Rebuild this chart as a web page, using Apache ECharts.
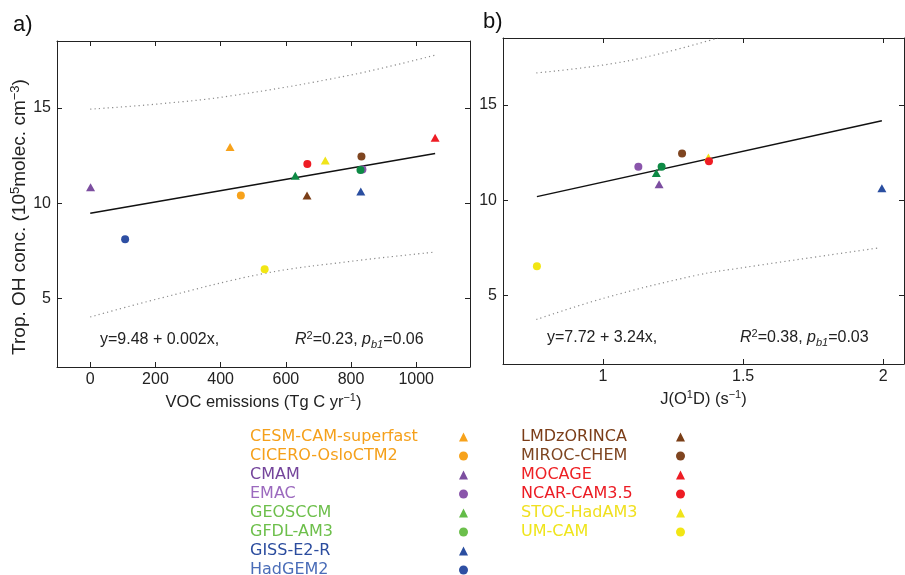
<!DOCTYPE html>
<html>
<head>
<meta charset="utf-8">
<script src="https://cdn.jsdelivr.net/npm/echarts@6/dist/echarts.min.js"></script>
<style>html,body{margin:0;padding:0;background:#fff;}#c{width:905px;height:575px;}</style>
</head>
<body>
<div id="c"></div>
<script>
// ---- data ----
const models = ['CESM-CAM-superfast','CICERO-OsloCTM2','CMAM','EMAC','GEOSCCM','GFDL-AM3','GISS-E2-R','HadGEM2',
                'LMDzORINCA','MIROC-CHEM','MOCAGE','NCAR-CAM3.5','STOC-HadAM3','UM-CAM'];
const symbols = ['triangle','circle','triangle','circle','triangle','circle','triangle','circle',
                 'triangle','circle','triangle','circle','triangle','circle'];
// panel a: VOC emissions (Tg C/yr) vs trop. OH (1e5 molec/cm3)
const vocEmissions = [429, 462, 1, 835, 629, 829, 830, 107, 665, 832, 1058, 666, 721, 535];
const ohA          = [12.94, 10.41, 10.84, 11.77, 11.44, 11.74, 10.62, 8.11, 10.41, 12.45, 13.43, 12.06, 12.24, 6.54];
// panel b: J(O1D) vs trop. OH (only 9 models)
const jo1d = [null, null, 1.20, 1.126, 1.19, 1.209, 1.995, null, null, 1.282, null, 1.378, 1.376, 0.764];
const ohB  = [null, null, 10.84, 11.75, 11.43, 11.75, 10.63, null, null, 12.45, null, 12.04, 12.24, 6.54];
// regression lines and prediction bounds
const regA   = [[0, 9.48], [1058, 12.6]];
const upperA = [[0, 14.93], [214, 15.21], [429, 15.62], [797, 16.71], [1058, 17.76]];
const lowerA = [[0, 4.04], [214, 5.02], [531, 6.31], [797, 6.95], [1058, 7.44]];
const regB   = [[0.764, 10.19], [1.995, 14.17]];
const upperB = [[0.762, 16.67], [1.089, 17.3], [1.41, 18.5]];
const lowerB = [[0.762, 3.75], [1.006, 4.88], [1.327, 6.05], [1.5, 6.47], [1.988, 7.51]];
// ticks
const xTicksA = [0, 200, 400, 600, 800, 1000];
const xTicksB = [1, 1.5, 2];
const yTicks  = [5, 10, 15];
const eqA = ['y=9.48 + 0.002x,', '0.23', '0.06'];
const eqB = ['y=7.72 + 3.24x,', '0.38', '0.03'];

// ---- styles ----
const markerColors = ['#F7A21B','#F7A21B','#7C4EA0','#8A55AB','#0E8A45','#0E8A45','#2A4EA0','#2E4FA3',
                      '#7A3E17','#7F4520','#EE1C24','#EE1C24','#F0E41A','#F2E614'];
const legendMarkerColors = ['#F7A21B','#F7A21B','#7C4EA0','#8A55AB','#63BC48','#6BBF4B','#2A4EA0','#2E4FA3',
                      '#7A3E17','#7F4520','#EE1C24','#EE1C24','#F0E41A','#F2E614'];
const textColors = ['#F5A01A','#F5A01A','#74449B','#9B69BE','#6DBF4B','#6DBF4B','#2B4C9E','#4A6DB8',
                    '#7B3C17','#7E4520','#EE2024','#EC1C24','#F0E020','#EFE51B'];

const FONT = 'Liberation Sans, Arial, Helvetica, sans-serif';
const AX = '#222';

function nameRich(size, sup, lh) {
  return {
    n: {fontSize: size, fontFamily: FONT, color: AX, lineHeight: lh},
    s: {fontSize: sup, fontFamily: FONT, color: AX, lineHeight: sup, verticalAlign: 'top'}
  };
}

function xAxes(grid, min, max, ticks, name) {
  return [{
    gridIndex: grid, type: 'value', min: min, max: max, position: 'bottom',
    axisLine: {show: true, onZero: false, lineStyle: {color: AX, width: 1}},
    axisTick: {show: true, inside: true, length: 5, customValues: ticks, lineStyle: {color: AX}},
    axisLabel: {show: true, customValues: ticks, fontSize: 16, fontFamily: FONT, color: AX, margin: 5,
                formatter: function (v) { return String(v); }},
    splitLine: {show: false},
    name: name, nameLocation: 'middle', nameGap: 24,
    nameTextStyle: {rich: nameRich(16.5, 11, 20)}
  }, {
    gridIndex: grid, type: 'value', min: min, max: max, position: 'top',
    axisLine: {show: true, onZero: false, lineStyle: {color: AX, width: 1}},
    axisTick: {show: true, inside: true, length: 5, customValues: ticks, lineStyle: {color: AX}},
    axisLabel: {show: false}, splitLine: {show: false}
  }];
}
function yAxes(grid, name) {
  const left = {
    gridIndex: grid, type: 'value', min: 1.42, max: 18.5, position: 'left',
    axisLine: {show: true, onZero: false, lineStyle: {color: AX, width: 1}},
    axisTick: {show: true, inside: true, length: 5, customValues: yTicks, lineStyle: {color: AX}},
    axisLabel: {show: true, customValues: yTicks, fontSize: 16, fontFamily: FONT, color: AX, margin: 6,
                formatter: function (v) { return String(v); }},
    splitLine: {show: false}
  };
  if (name) {
    left.name = name; left.nameLocation = 'middle'; left.nameGap = 24; left.nameRotate = 90;
    left.nameTextStyle = {rich: nameRich(19, 13, 22), padding: [0, 26, 0, 0]};
  }
  return [left, {
    gridIndex: grid, type: 'value', min: 1.42, max: 18.5, position: 'right',
    axisLine: {show: true, onZero: false, lineStyle: {color: AX, width: 1}},
    axisTick: {show: true, inside: true, length: 5, customValues: yTicks, lineStyle: {color: AX}},
    axisLabel: {show: false}, splitLine: {show: false}
  }];
}

const series = [];
function lineSeries(data, xi, yi, dotted) {
  return {
    type: 'line', data: data, xAxisIndex: xi, yAxisIndex: yi, symbol: 'none', silent: true,
    smooth: dotted ? 0.4 : false, z: 1, clip: true,
    lineStyle: dotted ? {color: '#8a8a8a', width: 1.2, type: [1.2, 3.2]} : {color: '#111', width: 1.5}
  };
}
series.push(lineSeries(regA, 0, 0, false), lineSeries(upperA, 0, 0, true), lineSeries(lowerA, 0, 0, true));
series.push(lineSeries(regB, 2, 2, false), lineSeries(upperB, 2, 2, true), lineSeries(lowerB, 2, 2, true));

models.forEach(function (m, i) {
  const tri = symbols[i] === 'triangle';
  const base = {
    type: 'scatter', name: m, symbol: symbols[i], symbolSize: tri ? [9, 8] : 8,
    itemStyle: {color: markerColors[i], opacity: 1}, z: tri ? 3 : 4, silent: true
  };
  series.push(Object.assign({}, base, {xAxisIndex: 0, yAxisIndex: 0, data: [[vocEmissions[i], ohA[i]]]}));
  if (jo1d[i] != null) {
    series.push(Object.assign({}, base, {xAxisIndex: 2, yAxisIndex: 2, data: [[jo1d[i], ohB[i]]]}));
  }
});

function legendBlock(from, to, left, width) {
  const rich = {};
  const data = [];
  for (let i = from; i < to; i++) {
    rich['c' + i] = {color: textColors[i], width: width, align: 'left', fontSize: 16,
                     fontFamily: 'DejaVu Sans, sans-serif', lineHeight: 19};
    data.push({name: models[i], icon: symbols[i], itemStyle: {color: legendMarkerColors[i], opacity: 1}});
  }
  return {
    orient: 'vertical', left: left, top: 429, height: 220, align: 'right', padding: 0,
    itemWidth: 9, itemHeight: 9, itemGap: 3, selectedMode: false,
    data: data,
    formatter: function (n) { return '{c' + models.indexOf(n) + '|' + n + '}'; },
    textStyle: {rich: rich}
  };
}

function eqRich() {
  return {
    n: {fontSize: 16, fontFamily: FONT, fill: AX, lineHeight: 20},
    i: {fontSize: 16, fontFamily: FONT, fontStyle: 'italic', fill: AX, lineHeight: 20},
    s: {fontSize: 11, fontFamily: FONT, fill: AX, lineHeight: 11, verticalAlign: 'top'},
    b: {fontSize: 11, fontFamily: FONT, fontStyle: 'italic', fill: AX, lineHeight: 11, verticalAlign: 'bottom'}
  };
}
function eqText(x, y, txt) {
  return {type: 'text', x: x, y: y, silent: true,
    style: {text: txt, rich: eqRich(), fontSize: 16, fontFamily: FONT, fill: AX, align: 'left', verticalAlign: 'middle'}};
}

const option = {
  animation: false,
  backgroundColor: '#fff',
  grid: [
    {left: 57, top: 41, width: 413, height: 326},
    {left: 503, top: 38, width: 401, height: 326}
  ],
  xAxis: [].concat(
    xAxes(0, -102, 1165, xTicksA, '{n|VOC emissions (Tg C yr}{s|−1}{n|)}'),
    xAxes(1, 0.643, 2.074, xTicksB, '{n|J(O}{s|1}{n|D) (s}{s|−1}{n|)}')
  ),
  yAxis: [].concat(
    yAxes(0, '{n|Trop. OH conc. (10}{s|5}{n|molec. cm}{s|−3}{n|)}'),
    yAxes(1, null)
  ),
  legend: [legendBlock(0, 8, 250, 204), legendBlock(8, 14, 521, 150)],
  series: series,
  graphic: [
    {type: 'text', x: 13, y: 25, silent: true, style: {text: 'a)', fontSize: 22, fontFamily: FONT, fill: '#111', verticalAlign: 'middle'}},
    {type: 'text', x: 483, y: 22, silent: true, style: {text: 'b)', fontSize: 22, fontFamily: FONT, fill: '#111', verticalAlign: 'middle'}},
    eqText(100, 340, '{n|' + eqA[0] + '}'),
    eqText(295, 340, '{i|R}{s|2}{n|=' + eqA[1] + ', }{i|p}{b|b1}{n|=' + eqA[2] + '}'),
    eqText(547, 338, '{n|' + eqB[0] + '}'),
    eqText(740, 338, '{i|R}{s|2}{n|=' + eqB[1] + ', }{i|p}{b|b1}{n|=' + eqB[2] + '}')
  ]
};

const chart = echarts.init(document.getElementById('c'), null, {renderer: 'canvas'});
chart.setOption(option);
</script>
</body>
</html>
